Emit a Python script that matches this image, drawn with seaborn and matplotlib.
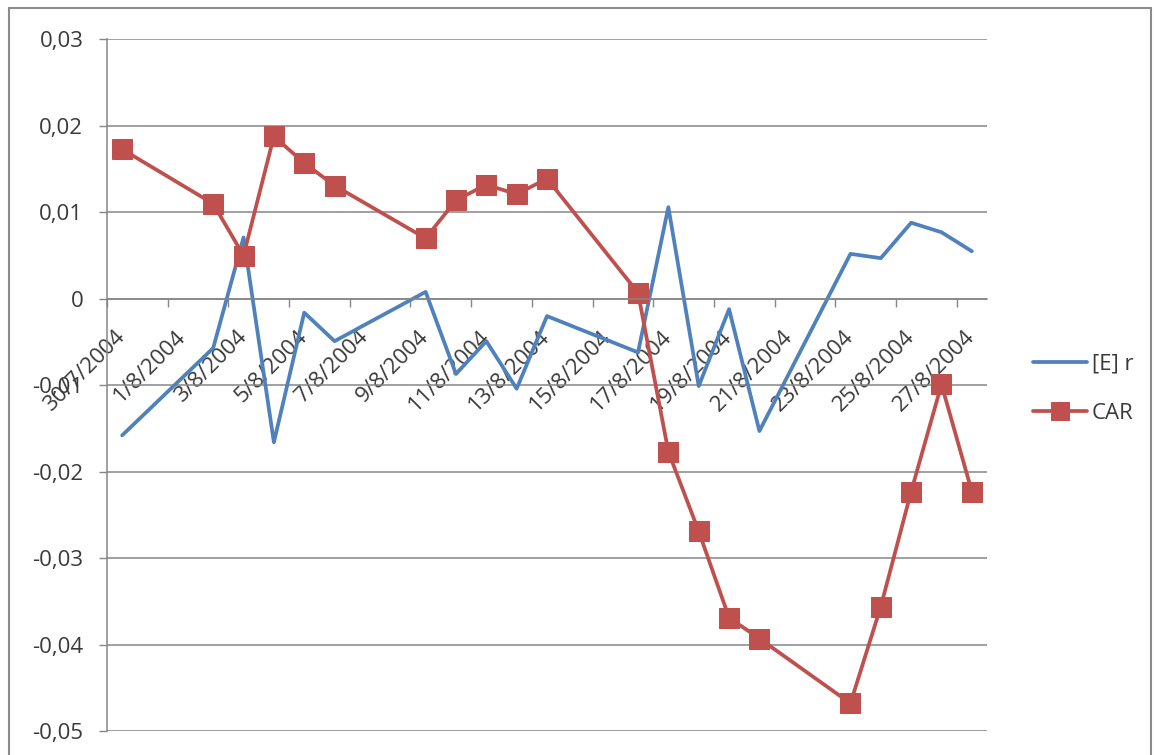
import pandas as pd
import numpy as np
import matplotlib
matplotlib.use("Agg")
import matplotlib.pyplot as plt
import seaborn as sns
from matplotlib.ticker import FuncFormatter, FixedLocator
from matplotlib.patches import Rectangle

# =========================
# DATA
# =========================

dates = ["30/7/2004", "2/8/2004", "3/8/2004", "4/8/2004", "5/8/2004", "6/8/2004",
         "9/8/2004", "10/8/2004", "11/8/2004", "12/8/2004", "13/8/2004",
         "16/8/2004", "17/8/2004", "18/8/2004", "19/8/2004", "20/8/2004",
         "23/8/2004", "24/8/2004", "25/8/2004", "26/8/2004", "27/8/2004"]

er = [-0.0158, -0.0057, 0.0071, -0.0166, -0.0016, -0.0049,
      0.0008, -0.0087, -0.0049, -0.0104, -0.0020,
      -0.0062, 0.0106, -0.0101, -0.0012, -0.0153,
      0.0052, 0.0047, 0.0088, 0.0077, 0.0055]

car = [0.0173, 0.0110, 0.0050, 0.0188, 0.0157, 0.0131,
       0.0070, 0.0114, 0.0132, 0.0121, 0.0139,
       0.0007, -0.0177, -0.0269, -0.0369, -0.0393,
       -0.0468, -0.0356, -0.0223, -0.0099, -0.0223]

label_dates = ["30/7/2004", "1/8/2004", "3/8/2004", "5/8/2004", "7/8/2004",
               "9/8/2004", "11/8/2004", "13/8/2004", "15/8/2004", "17/8/2004",
               "19/8/2004", "21/8/2004", "23/8/2004", "25/8/2004", "27/8/2004"]

df = pd.DataFrame({"date": pd.to_datetime(dates, dayfirst=True), "[E] r": er, "CAR": car})
start = df["date"].min()
df["day"] = (df["date"] - start).dt.days
label_pos = (pd.to_datetime(label_dates, dayfirst=True) - start).days

blue = "#4F81BD"
red = "#C0504D"
grey = "#868686"
txt = "#3a3a3a"

sns.set_style("white")
plt.rcParams["font.family"] = ["Open Sans", "DejaVu Sans"]

fig = plt.figure(figsize=(11.54, 7.55), dpi=100)
ax = fig.add_axes([0.0927, 0.0318, 0.7626, 0.9159])

sns.lineplot(data=df, x="day", y="[E] r", color=blue, lw=2.7, ax=ax, label="[E] r")
sns.lineplot(data=df, x="day", y="CAR", color=red, lw=2.7, marker="s", markersize=15,
             markeredgecolor=red, markerfacecolor=red, ax=ax, label="CAR")

ax.set_xlim(-0.5, df["day"].max() + 0.5)
ax.set_ylim(-0.05, 0.03)
ax.set_xlabel("")
ax.set_ylabel("")

# y axis
ax.yaxis.set_major_locator(FixedLocator(np.arange(-0.05, 0.031, 0.01)))
ax.yaxis.set_major_formatter(FuncFormatter(
    lambda v, _: "0" if abs(v) < 1e-9 else f"{v:.2f}".replace(".", ",")))
ax.yaxis.grid(True, color=grey, lw=1.1)
ax.tick_params(axis="y", length=6, width=1, color=grey, pad=11,
               labelsize=16, labelcolor=txt, left=True)

# x axis sits on the zero line
ax.spines["bottom"].set_position(("data", 0))
for s in ["top", "right"]:
    ax.spines[s].set_visible(False)
for s in ["left", "bottom"]:
    ax.spines[s].set_color(grey)
    ax.spines[s].set_linewidth(1.1)

ax.set_xticks(label_pos)
ax.set_xticklabels(label_dates)
ax.set_xticks(np.arange(-0.5, df["day"].max() + 0.6, 2), minor=True)
ax.tick_params(axis="x", which="major", length=0, pad=25, labelsize=16, labelcolor=txt)
ax.tick_params(axis="x", which="minor", length=6, width=1, color=grey, bottom=True)
plt.setp(ax.get_xticklabels(), rotation=45, ha="right", va="center", rotation_mode="anchor")

ax.legend(loc="upper left", bbox_to_anchor=(0.895, 0.532), bbox_transform=fig.transFigure,
          frameon=False, fontsize=16, handlelength=2.43, handletextpad=0.22,
          labelspacing=1.3, borderpad=0, borderaxespad=0, labelcolor=txt, markerscale=0.85)

# chart area border
fig.patches.append(Rectangle((0.0078, -0.01), 0.99, 0.9994, transform=fig.transFigure,
                             fill=False, edgecolor="#8c8c8c", lw=1.5))

fig.savefig("out.png", dpi=100)
